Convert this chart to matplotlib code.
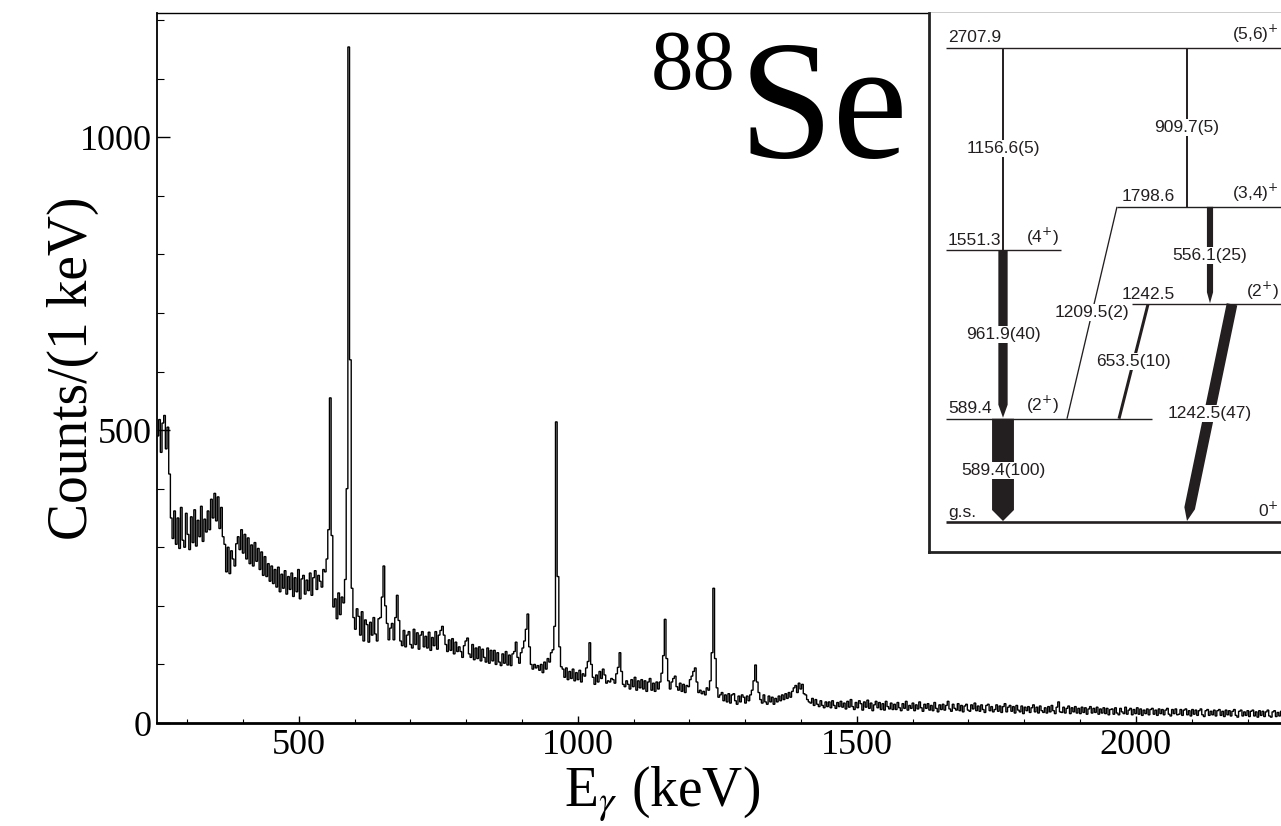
import numpy as np
import matplotlib
matplotlib.use("Agg")
import matplotlib.pyplot as plt
from matplotlib.patches import Polygon
from matplotlib.ticker import MultipleLocator

# ---------------------------------------------------------------------------
# Gamma-ray spectrum gated on 88Se: counts per keV in 3 keV bins from 246 keV
# ---------------------------------------------------------------------------
spectrum_start_kev = 246
bin_width_kev = 3
counts_per_kev = [
    490, 518, 462, 512, 525, 468, 505, 425, 350, 315,   # 246
    362, 305, 350, 298, 368, 312, 300, 358, 322, 296,   # 276
    352, 308, 364, 302, 346, 318, 370, 310, 348, 326,   # 306
    362, 330, 382, 350, 392, 345, 386, 332, 368, 318,   # 336
    305, 258, 300, 255, 294, 280, 268, 306, 318, 296,   # 366
    330, 290, 322, 280, 316, 272, 304, 268, 308, 276,   # 396
    298, 262, 292, 252, 284, 250, 272, 242, 268, 238,   # 426
    262, 232, 266, 224, 254, 230, 260, 220, 250, 228,   # 456
    256, 216, 248, 224, 262, 212, 246, 252, 220, 244,   # 486
    226, 256, 218, 248, 260, 228, 252, 242, 232, 262,   # 516
    258, 280, 330, 555, 320, 198, 212, 178, 222, 185,   # 546
    215, 205, 245, 400, 1154, 620, 230, 180, 160, 195,  # 576
    182, 150, 190, 140, 176, 168, 138, 172, 150, 180,   # 606
    152, 140, 178, 180, 215, 268, 200, 170, 142, 162,   # 636
    170, 142, 180, 218, 175, 140, 132, 158, 130, 150,   # 666
    156, 134, 128, 160, 134, 154, 126, 150, 156, 130,   # 696
    148, 128, 155, 124, 146, 132, 156, 126, 150, 158,   # 726
    165, 150, 134, 122, 142, 124, 144, 118, 138, 122,   # 756
    130, 122, 112, 132, 140, 145, 118, 112, 134, 108,   # 786
    128, 110, 130, 106, 126, 112, 104, 128, 102, 124,   # 816
    106, 124, 100, 120, 104, 98, 118, 102, 122, 99,     # 846
    116, 98, 118, 122, 138, 112, 102, 120, 128, 140,    # 876
    160, 186, 130, 100, 92, 100, 94, 98, 90, 100,       # 906
    86, 104, 92, 110, 104, 120, 125, 165, 514, 250,     # 936
    130, 96, 92, 78, 94, 74, 88, 76, 92, 72,            # 966
    86, 74, 90, 70, 84, 80, 94, 105, 137, 100,          # 996
    78, 66, 82, 70, 88, 76, 92, 82, 68, 72,             # 1026
    70, 76, 74, 68, 84, 95, 120, 88, 66, 62,            # 1056
    72, 66, 58, 74, 62, 78, 56, 72, 60, 74,             # 1086
    58, 72, 54, 70, 76, 56, 68, 54, 70, 58,             # 1116
    70, 85, 115, 177, 110, 72, 58, 70, 76, 80,          # 1146
    62, 56, 68, 54, 66, 52, 64, 62, 74, 80,             # 1176
    88, 94, 70, 52, 56, 50, 54, 48, 60, 56,             # 1206
    72, 120, 230, 110, 60, 44, 48, 52, 38, 48,          # 1236
    36, 50, 34, 48, 50, 38, 32, 46, 36, 48,             # 1266
    44, 34, 46, 38, 48, 56, 72, 99, 70, 52,             # 1296
    40, 34, 48, 36, 32, 46, 36, 44, 32, 42,             # 1326
    36, 46, 38, 48, 40, 50, 42, 52, 44, 54,             # 1356
    60, 64, 52, 68, 58, 66, 50, 48, 40, 36,             # 1386
    34, 42, 30, 40, 32, 28, 38, 30, 26, 36,             # 1416
    28, 36, 26, 38, 30, 25, 35, 28, 37, 27,             # 1446
    34, 24, 37, 27, 40, 28, 23, 35, 26, 38,             # 1476
    33, 22, 36, 27, 39, 25, 34, 21, 31, 37,             # 1506
    26, 35, 23, 33, 22, 37, 28, 24, 34, 23,             # 1536
    32, 23, 35, 26, 21, 33, 25, 37, 22, 30,             # 1566
    25, 34, 21, 31, 24, 36, 26, 20, 32, 25,             # 1596
    33, 22, 30, 21, 35, 25, 19, 31, 23, 32,             # 1626
    22, 30, 37, 24, 20, 32, 25, 22, 33, 21,             # 1656
    30, 19, 29, 32, 22, 20, 31, 24, 34, 21,             # 1686
    29, 20, 31, 23, 18, 30, 32, 21, 28, 19,             # 1716
    23, 31, 20, 29, 18, 28, 33, 19, 27, 30,             # 1746
    20, 28, 17, 30, 22, 19, 29, 16, 27, 21,             # 1776
    28, 18, 26, 31, 19, 27, 17, 29, 21, 18,             # 1806
    26, 17, 28, 19, 30, 21, 16, 27, 36, 19,             # 1836
    18, 27, 17, 25, 29, 16, 26, 19, 28, 17,             # 1866
    25, 16, 27, 18, 26, 15, 24, 28, 17, 25,             # 1896
    18, 27, 15, 24, 17, 26, 16, 25, 14, 23,             # 1926
    24, 15, 26, 17, 14, 25, 19, 16, 27, 15,             # 1956
    22, 25, 14, 23, 16, 26, 15, 24, 13, 22,             # 1986
    16, 24, 14, 23, 25, 15, 22, 13, 24, 16,             # 2016
    23, 14, 22, 25, 15, 12, 23, 16, 24, 14,             # 2046
    15, 23, 13, 22, 24, 14, 21, 12, 23, 15,             # 2076
    22, 13, 21, 24, 14, 11, 21, 23, 13, 20,             # 2106
    14, 22, 12, 21, 23, 13, 20, 11, 22, 14,             # 2136
    21, 12, 20, 23, 13, 10, 20, 22, 12, 19,             # 2166
    13, 21, 11, 20, 22, 12, 19, 10, 21, 13,             # 2196
    20, 11, 19, 22, 12, 10, 19, 21, 11, 18,             # 2226
    12, 20,                                             # 2256
]

x_range_kev = (246, 2260)
y_range_counts = (0, 1212)
x_major_ticks = [500, 1000, 1500, 2000]
y_major_ticks = [0, 500, 1000]

# ---------------------------------------------------------------------------
# Level scheme of 88Se
# ---------------------------------------------------------------------------
level_energies = [0.0, 589.4, 1242.5, 1551.3, 1798.6, 2707.9]
level_names = ["g.s.", "589.4", "1242.5", "1551.3", "1798.6", "2707.9"]
level_spins = ["0$^{+}$", "(2$^{+}$)", "(2$^{+}$)", "(4$^{+}$)",
               "(3,4)$^{+}$", "(5,6)$^{+}$"]

transition_energies = [1156.6, 909.7, 556.1, 961.9, 1209.5, 653.5, 1242.5, 589.4]
transition_from = [2707.9, 2707.9, 1798.6, 1551.3, 1798.6, 1242.5, 1242.5, 589.4]
transition_to = [1551.3, 1798.6, 1242.5, 589.4, 589.4, 589.4, 0.0, 0.0]
transition_intensity = [5, 5, 25, 40, 2, 10, 47, 100]

# ---------------------------------------------------------------------------
W, H = 1281, 826
fig = plt.figure(figsize=(W / 100, H / 100), dpi=100)
plt.rcParams["font.family"] = ["Liberation Serif", "DejaVu Serif"]


def fx(px):
    return px / W


def fy(py):
    return 1 - py / H


ax_left, ax_right, ax_top, ax_bottom = 157, 1281, 13, 723
ax = fig.add_axes([fx(ax_left), fy(ax_bottom), fx(ax_right - ax_left),
                   (ax_bottom - ax_top) / H])

edges = spectrum_start_kev + bin_width_kev * np.arange(len(counts_per_kev) + 1)
ax.stairs(counts_per_kev, edges, baseline=None, color="black", lw=1.0)

ax.set_xlim(*x_range_kev)
ax.set_ylim(*y_range_counts)
ax.set_xticks(x_major_ticks)
ax.set_yticks(y_major_ticks)
ax.xaxis.set_minor_locator(MultipleLocator(100))
ax.yaxis.set_minor_locator(MultipleLocator(100))
ax.tick_params(axis="x", which="major", direction="in", length=5, width=1,
               labelsize=26, pad=4, top=False)
ax.tick_params(axis="x", which="minor", direction="in", length=3, width=0.8,
               top=False)
ax.tick_params(axis="y", which="major", direction="in", length=9.5, width=1,
               labelsize=26, pad=4, right=False)
ax.tick_params(axis="y", which="minor", direction="in", length=5, width=0.8,
               right=False)
ax.spines["right"].set_visible(False)
ax.spines["left"].set_linewidth(1.3)
ax.spines["bottom"].set_linewidth(2.0)
ax.spines["top"].set_linewidth(1.0)

fig.text(fx(73), fy(368), "Counts/(1 keV)", rotation=90, ha="center",
         va="center", fontsize=40)
fig.text(fx(662), fy(806), r"E$_{\gamma}$ (keV)", ha="center", va="baseline",
         fontsize=40, math_fontfamily="stix")

# nucleus label
fig.text(fx(651), fy(89), "88", ha="left", va="baseline", fontsize=61)
fig.text(fx(739), fy(157), "Se", ha="left", va="baseline", fontsize=122)

# ---------------------------------------------------------------------------
# Inset: level scheme (x in pixel columns, y in excitation energy / keV)
# ---------------------------------------------------------------------------
in_left, in_right, in_top, in_bottom = 929, 1281, 13, 552
axi = fig.add_axes([fx(in_left), fy(in_bottom), fx(in_right - in_left),
                    (in_bottom - in_top) / H])
axi.set_xlim(in_left, in_right)
ylo, yhi = -171.2, 2904.8
axi.set_ylim(ylo, yhi)
kev_per_px = (yhi - ylo) / (in_bottom - in_top)
axi.set_xticks([])
axi.set_yticks([])
for side in ("top", "right"):
    axi.spines[side].set_visible(False)
for side in ("left", "bottom"):
    axi.spines[side].set_linewidth(2.0)
    axi.spines[side].set_color("#222222")

ink = "#231f20"
sans = ["Liberation Sans", "DejaVu Sans"]
fs = 12.5

level_span = {0.0: (946, 1282), 589.4: (946, 1152), 1242.5: (1132, 1282),
              1551.3: (946, 1061), 1798.6: (1117, 1282), 2707.9: (946, 1282)}
name_x = {0.0: 948, 589.4: 948, 1242.5: 1122, 1551.3: 948, 1798.6: 1122,
          2707.9: 948}
spin_pos = {0.0: (1279, "right"), 589.4: (1026, "left"),
            1242.5: (1279, "right"), 1551.3: (1026, "left"),
            1798.6: (1279, "right"), 2707.9: (1279, "right")}
lift = 2.5 * kev_per_px

for e, name, spin in zip(level_energies, level_names, level_spins):
    x0, x1 = level_span[e]
    axi.plot([x0, x1], [e, e], color=ink, lw=1.9 if e == 0 else 1.0,
             solid_capstyle="butt")
    axi.text(name_x[e], e + lift, name, ha="left", va="bottom",
             fontsize=fs, family=sans, color=ink)
    sx, sha = spin_pos[e]
    axi.text(sx, e + lift, spin, ha=sha, va="bottom", fontsize=fs,
             family=sans, color=ink, math_fontfamily="dejavusans")

# column positions (pixel x) of each transition at its upper and lower level
trans_x = {1156.6: (1003, 1003), 909.7: (1187, 1187), 556.1: (1210, 1210),
           961.9: (1003, 1003), 1209.5: (1117, 1067), 653.5: (1148, 1119),
           1242.5: (1232, 1187), 589.4: (1003, 1003)}
head_len = {556.1: 11, 961.9: 13, 1242.5: 13, 589.4: 11}

for eg, ei, ef, inten in zip(transition_energies, transition_from,
                             transition_to, transition_intensity):
    xa, xb = trans_x[eg]
    width_px = 0.9 + 0.21 * inten
    if inten >= 20:
        p0 = np.array([xa, ei / kev_per_px])
        p1 = np.array([xb, ef / kev_per_px + 1.0])
        d = p1 - p0
        u = d / np.hypot(*d)
        n = np.array([-u[1], u[0]])
        hw = width_px / 2
        s_end = p1 - u * head_len[eg]
        pts = np.array([p0 + n * hw, s_end + n * hw, p1,
                        s_end - n * hw, p0 - n * hw])
        pts[:, 1] *= kev_per_px
        axi.add_patch(Polygon(pts, closed=True, facecolor=ink,
                              edgecolor="none"))
    else:
        axi.plot([xa, xb], [ei, ef], color=ink, lw=width_px * 0.72,
                 solid_capstyle="butt")
    axi.text((xa + xb) / 2, (ei + ef) / 2, f"{eg:.1f}({inten})",
             ha="center", va="center", fontsize=fs, family=sans, color=ink,
             bbox=dict(facecolor="white", edgecolor="none", pad=0.6))

fig.savefig("out.png", dpi=100)
